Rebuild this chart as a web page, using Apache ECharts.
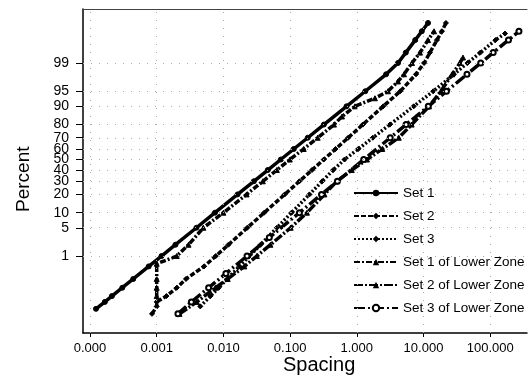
<!DOCTYPE html>
<html><head><meta charset="utf-8">
<script src="https://cdn.jsdelivr.net/npm/echarts@6/dist/echarts.min.js"></script>
<style>html,body{margin:0;padding:0;background:#fff}#c{width:529px;height:384px}</style>
</head><body><div id="c"></div>
<script>
// ---- data (spacing values, cumulative percent) ----
const seriesNames = ["Set 1","Set 2","Set 3","Set 1 of Lower Zone","Set 2 of Lower Zone","Set 3 of Lower Zone"];

const set1Percent = [0.016,0.03,0.05,0.1,0.2,0.5,1,2,5,10,20,30,40,50,60,70,80,90,95,98,99,99.5,99.8,99.9,99.95];
const set1Spacing = [0.000123,0.000167,0.000213,0.000305,0.000445,0.000759,0.00118,0.00191,0.00394,0.00748,0.0163,0.0286,0.0463,0.0726,0.1135,0.184,0.321,0.702,1.34,2.75,4.15,5.43,7.52,9.44,11.7];

const set2Percent = [0.01,0.02,0.03,0.05,0.1,0.2,0.5,1,2,5,10,20,30,40,50,60,70,80,90,95,98,99,99.5,99.8,99.9,99.95];
const set2Spacing = [0.00085,0.001,0.001,0.0014,0.002,0.00275,0.00512,0.00769,0.0119,0.0228,0.0409,0.083,0.138,0.213,0.32,0.48,0.743,1.23,2.49,4.48,7.72,10.2,12.5,15.9,18.9,21.7];

const set3Percent = [0.02,0.05,0.1,0.2,0.5,1,2,5,10,20,30,40,50,60,70,80,90,95,98,99,99.5,99.8,99.88];
const set3Spacing = [0.0045,0.0064,0.0085,0.0114,0.0174,0.0246,0.036,0.0634,0.105,0.195,0.303,0.443,0.656,1.05,1.74,3.13,7.13,14.0,28.6,45.7,71.1,120,167];

const set1LZPercent = [0.05,0.1,0.2,0.6,1,2,5,10,20,30,40,50,60,70,80,85,90,93,95,97,98,99,99.5,99.8,99.9];
const set1LZSpacing = [0.001,0.001,0.001,0.001,0.002,0.003,0.005,0.01,0.0223,0.039,0.0633,0.0991,0.16,0.259,0.455,0.6,0.94,1.87,2.94,4.15,5.1,6.73,8.87,11.7,14.4];

const set2LZPercent = [0.01,0.03,0.1,0.2,0.5,1,2,5,10,20,30,40,50,60,70,80,90,95,98,99,99.3];
const set2LZSpacing = [0.0022,0.004,0.00757,0.0116,0.0206,0.0317,0.0507,0.102,0.179,0.327,0.501,0.84,1.42,2.41,4.26,6.65,12.1,18.2,27.0,35.2,39.1];

const set3LZPercent = [0.01,0.03,0.1,0.3,1,3,10,20,30,50,70,80,90,95,98,99,99.5,99.8,99.9];
const set3LZSpacing = [0.00208,0.00331,0.006,0.0109,0.0226,0.0488,0.138,0.296,0.512,1.27,3.17,5.48,11.8,22.1,44.9,72.1,111,188,270];

const xTickValues = [0.0001,0.001,0.01,0.1,1,10,100];
const yTickPercents = [1,5,10,20,30,40,50,60,70,80,90,95,99];

// ---- scale transforms (normal probability / log10) ----
function probit(p){
  const a=[-3.969683028665376e+01,2.209460984245205e+02,-2.759285104469687e+02,1.383577518672690e+02,-3.066479806614716e+01,2.506628277459239e+00];
  const b=[-5.447609879822406e+01,1.615858368580409e+02,-1.556989798598866e+02,6.680131188771972e+01,-1.328068155288572e+01];
  const c=[-7.784894002430293e-03,-3.223964580411365e-01,-2.400758277161838e+00,-2.549732539343734e+00,4.374664141464968e+00,2.938163982698783e+00];
  const d=[7.784695709041462e-03,3.224671290700398e-01,2.445134137142996e+00,3.754408661907416e+00];
  const pl=0.02425, ph=1-pl; let q,r;
  if(p<pl){q=Math.sqrt(-2*Math.log(p));return (((((c[0]*q+c[1])*q+c[2])*q+c[3])*q+c[4])*q+c[5])/((((d[0]*q+d[1])*q+d[2])*q+d[3])*q+1);}
  if(p<=ph){q=p-0.5;r=q*q;return (((((a[0]*r+a[1])*r+a[2])*r+a[3])*r+a[4])*r+a[5])*q/(((((b[0]*r+b[1])*r+b[2])*r+b[3])*r+b[4])*r+1);}
  q=Math.sqrt(-2*Math.log(1-p));return -(((((c[0]*q+c[1])*q+c[2])*q+c[3])*q+c[4])*q+c[5])/((((d[0]*q+d[1])*q+d[2])*q+d[3])*q+1);
}
const toX = s => Math.log10(s);
const toY = p => probit(p/100);
function pairs(sp, pc){ return sp.map((s,i)=>[toX(s), toY(pc[i])]); }

const xTicks = xTickValues.map(toX);
const yTicks = yTickPercents.map(toY);

const font = "'Liberation Sans', Arial, sans-serif";
const styles = [
  {type:'solid', symbol:'circle'},
  {type:[5,2], symbol:'diamond'},
  {type:[2,2], symbol:'diamond'},
  {type:[6,2,2,2], symbol:'triangle'},
  {type:[9,2,2,2], symbol:'triangle'},
  {type:[11,3,2,3], symbol:'emptyCircle'}
];
const dataSets = [
  pairs(set1Spacing,set1Percent),
  pairs(set2Spacing,set2Percent),
  pairs(set3Spacing,set3Percent),
  pairs(set1LZSpacing,set1LZPercent),
  pairs(set2LZSpacing,set2LZPercent),
  pairs(set3LZSpacing,set3LZPercent)
];

const gridLines = xTicks.map(v=>({xAxis:v})).concat(yTicks.map(v=>({yAxis:v})));

const chart = echarts.init(document.getElementById('c'), null, {renderer:'canvas'});
chart.setOption({
  animation:false,
  backgroundColor:'#fff',
  grid:{left:83, right:2, top:9, bottom:51},
  xAxis:[{
    type:'value', min:-4.105, max:2.552,
    axisLine:{onZero:false, lineStyle:{color:'#000', width:1.5}},
    axisTick:{customValues:xTicks, length:4, lineStyle:{color:'#000'}},
    axisLabel:{customValues:xTicks, margin:9, fontSize:13, color:'#000', fontFamily:font,
      formatter:v=>Math.pow(10,v).toFixed(3)},
    splitLine:{show:false}
  },{
    type:'value', position:'top', min:-4.105, max:2.552,
    axisLine:{show:true, onZero:false, lineStyle:{color:'#444', width:1}},
    axisTick:{show:false}, axisLabel:{show:false}, splitLine:{show:false}
  }],
  yAxis:{
    type:'value', min:-4.181, max:3.627,
    axisLine:{show:true, onZero:false, lineStyle:{color:'#000', width:1.5}},
    axisTick:{show:true, customValues:yTicks, length:7, lineStyle:{color:'#000'}},
    axisLabel:{customValues:yTicks, margin:14, fontSize:14, color:'#000', fontFamily:font,
      formatter:v=>{ for(let i=0;i<yTicks.length;i++){ if(Math.abs(yTicks[i]-v)<1e-6) return String(yTickPercents[i]); } return ''; }},
    splitLine:{show:false}
  },
  legend:{
    orient:'vertical', left:348, top:181, itemWidth:44, itemHeight:8, itemGap:9,
    lineStyle:{width:2},
    textStyle:{fontSize:13.5, color:'#000', fontFamily:font},
    data:seriesNames
  },
  graphic:[
    {type:'text', x:14, y:212, rotation:Math.PI/2, style:{text:'Percent', font:"19px "+font, fill:'#000'}},
    {type:'text', x:283, y:355, style:{text:'Spacing', font:"20px "+font, fill:'#000'}}
  ],
  series: [{
    name:'_grid', type:'line', data:[], silent:true,
    markLine:{silent:true, symbol:'none', label:{show:false},
      lineStyle:{color:'#aaa', type:[1,7], width:1}, data:gridLines}
  }].concat(seriesNames.map((n,i)=>({
    name:n, type:'line', data:dataSets[i], xAxisIndex:0,
    symbol:styles[i].symbol, symbolSize:5, showSymbol:true,
    lineStyle:{color:'#000', width:3.5, type:styles[i].type},
    itemStyle:{color:'#000', borderColor:'#000'},
    z: 3
  })))
});
</script></body></html>
